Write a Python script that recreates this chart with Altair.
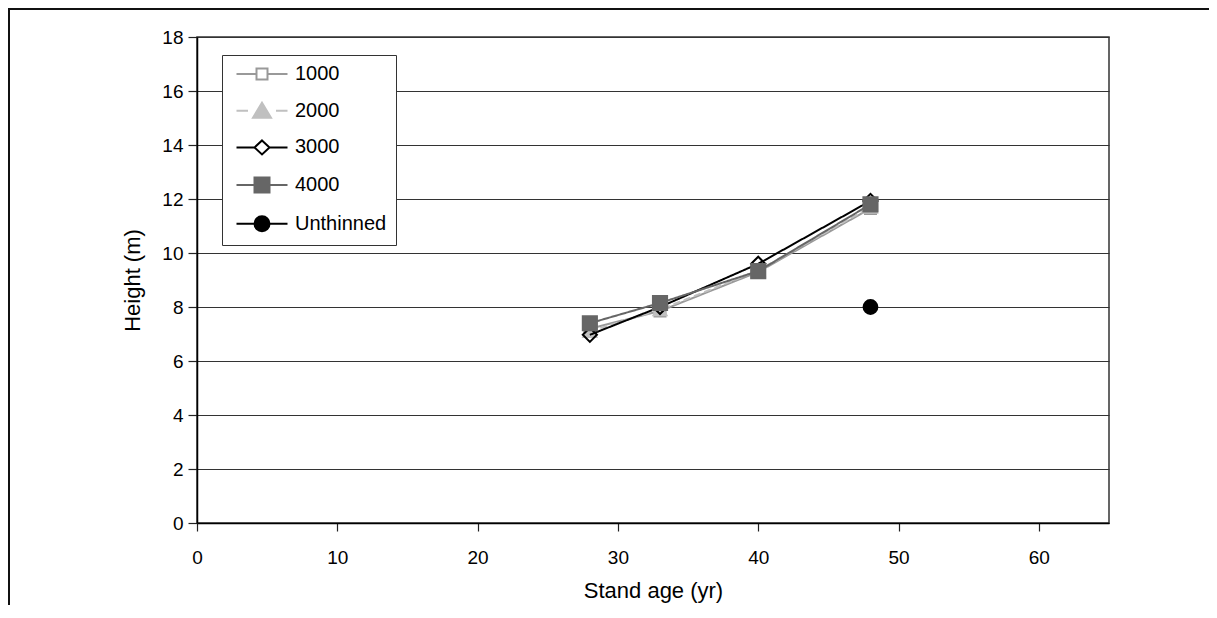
import altair as alt
import pandas as pd

ages = [28, 33, 40, 48]
h1000 = [7.2, 7.85, 9.3, 11.65]
h2000 = [7.1, 7.9, 9.35, 11.7]
h3000 = [6.97, 8.0, 9.6, 11.93]
h4000 = [7.4, 8.15, 9.33, 11.8]
unthinned_age = [48]
unthinned_h = [8.0]

series_names = ["1000", "2000", "3000", "4000", "Unthinned"]
y_ticks = [0, 2, 4, 6, 8, 10, 12, 14, 16, 18]
x_ticks = [0, 10, 20, 30, 40, 50, 60]

FONT = "Liberation Sans"
W, H = 912, 486
PAD = {"left": 189, "top": 29, "right": 100, "bottom": 82}

xs = alt.Scale(domain=[0, 65], nice=False, zero=False)
ys = alt.Scale(domain=[0, 18], nice=False, zero=False)

def df_for(name, xv, yv):
    return pd.DataFrame({"age": xv, "height": yv, "series": [name] * len(xv)})

def X():
    return alt.X("age:Q", scale=xs, axis=alt.Axis(values=x_ticks, title="Stand age (yr)", grid=False,
                                                  tickSize=8, labelPadding=17, titlePadding=13,
                                                  labelFlush=False))

def Y():
    return alt.Y("height:Q", scale=ys, axis=alt.Axis(values=y_ticks, title="Height (m)", grid=True,
                                                     tickSize=9, labelPadding=5, titlePadding=17))

styles = {
    "1000": dict(color="#999999", dash=[1, 0], shape="square", fill="white", size=121),
    "2000": dict(color="#c0c0c0", dash=[7, 4], shape="triangle-up", fill="#c0c0c0", size=170),
    "3000": dict(color="#000000", dash=[1, 0], shape="diamond", fill=None, size=200),
    "4000": dict(color="#666666", dash=[1, 0], shape="square", fill="#666666", size=200),
}
data_map = {"1000": h1000, "2000": h2000, "3000": h3000, "4000": h4000}

layers = []
for name in ["1000", "2000", "3000", "4000"]:
    s = styles[name]
    d = df_for(name, ages, data_map[name])
    base = alt.Chart(d)
    line = base.mark_line(color=s["color"], strokeWidth=2, strokeDash=s["dash"]).encode(x=X(), y=Y())
    if s["fill"] is None:
        pt = base.mark_point(shape=s["shape"], size=s["size"], stroke=s["color"], strokeWidth=2,
                             filled=False, opacity=1).encode(x=X(), y=Y())
    else:
        pt = base.mark_point(shape=s["shape"], size=s["size"], stroke=s["color"], fill=s["fill"],
                             strokeWidth=2, filled=True, opacity=1).encode(x=X(), y=Y())
    layers += [line, pt]

un = alt.Chart(df_for("Unthinned", unthinned_age, unthinned_h)).mark_point(
    shape="circle", size=190, fill="black", stroke="black", filled=True, opacity=1
).encode(x=X(), y=Y())
layers.append(un)

# legend layer (no visible marks; legend driven by explicit scale domain)
leg_paths = [
    "M-5.1,0H-1.1M1.1,0H5.1M-1.1,-1.1H1.1V1.1H-1.1Z",
    "M-5.1,0H-2.8M2.8,0H5.1M0,-1.6L1.8,1.4H-1.8Z",
    "M-5.1,0H-1.5M1.5,0H5.1M0,-1.4L1.5,0L0,1.4L-1.5,0Z",
    "M-5.1,0H-1.5M1.5,0H5.1M-1.5,-1.5H1.5V1.5H-1.5Z",
    "M-5.1,0H-1.5M1.5,0H5.1M-1.5,0A1.5,1.5,0,1,0,1.5,0A1.5,1.5,0,1,0,-1.5,0Z",
]
leg_fill = ["#ffffff", "#c0c0c0", "#ffffff", "#666666", "#000000"]
leg_stroke = ["#999999", "#c0c0c0", "#000000", "#666666", "#000000"]
leg_df = pd.DataFrame({"age": [0] * 5, "height": [0] * 5, "series": series_names})
leg = dict(title=None, orient="none", legendX=25, legendY=18)
legend_layer = alt.Chart(leg_df).transform_filter("false").mark_point(filled=True, size=100, opacity=1).encode(
    x=X(), y=Y(),
    shape=alt.Shape("series:N", scale=alt.Scale(domain=series_names, range=leg_paths), legend=alt.Legend(**leg)),
    fill=alt.Fill("series:N", scale=alt.Scale(domain=series_names, range=leg_fill), legend=alt.Legend(**leg)),
    stroke=alt.Stroke("series:N", scale=alt.Scale(domain=series_names, range=leg_stroke), legend=alt.Legend(**leg)),
)
layers.append(legend_layer)

# outer frame (decoration)
frame_top = alt.Chart(pd.DataFrame({"k": [0]})).mark_rule(color="#111111", strokeWidth=2).encode(
    x=alt.value(-PAD["left"]), x2=alt.value(W + PAD["right"]), y=alt.value(-PAD["top"] + 1))
frame_left = alt.Chart(pd.DataFrame({"k": [0]})).mark_rule(color="#111111", strokeWidth=2).encode(
    x=alt.value(-PAD["left"] + 1), y=alt.value(-PAD["top"]), y2=alt.value(H + PAD["bottom"]))
layers += [frame_top, frame_left]

chart = alt.layer(*layers).properties(
    width=W, height=H,
    autosize=alt.AutoSizeParams(type="none"),
    padding=PAD,
    background="white",
).configure_view(stroke="#333333", strokeWidth=1.5).configure_axis(
    labelFont=FONT, titleFont=FONT, labelFontSize=19, titleFontSize=22, titleFontWeight="normal",
    labelColor="#000000", titleColor="#000000", domainColor="#000000", tickColor="#222222",
    gridColor="#333333", gridWidth=1.2, domainWidth=1.5, tickWidth=1.2,
).configure_legend(
    labelFont=FONT, labelFontSize=20, labelColor="#000000",
    strokeColor="#333333", fillColor="#ffffff", padding=9,
    symbolStrokeWidth=2, symbolOffset=21, labelOffset=23, rowPadding=14.7,
)

chart.save("out.html", embed_options={"renderer": "svg", "actions": False})
